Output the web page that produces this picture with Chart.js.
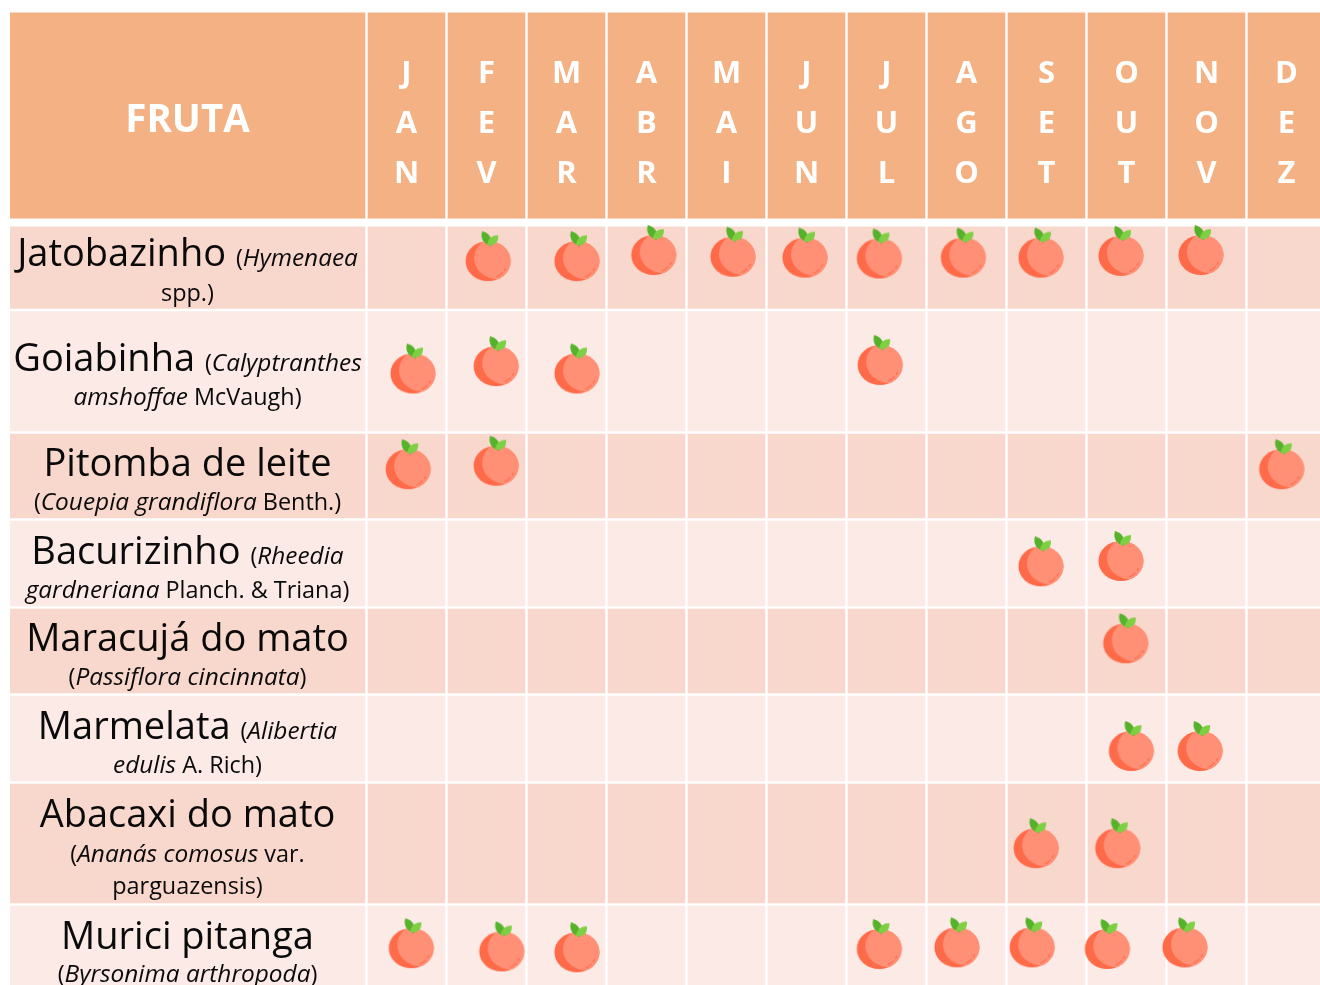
<!DOCTYPE html>
<html lang="pt">
<head>
<meta charset="utf-8">
<title>Calendário de frutas</title>
<script src="https://cdn.jsdelivr.net/npm/chart.js@4/dist/chart.umd.min.js"></script>
<style>
    html, body { margin: 0; padding: 0; background: #fff; overflow: hidden; }
    canvas { display: block; }
</style>
</head>
<body>
<canvas id="calendario" width="1320" height="985"></canvas>
<script>
const tituloFruta = 'FRUTA';
const meses = ['JAN', 'FEV', 'MAR', 'ABR', 'MAI', 'JUN', 'JUL', 'AGO', 'SET', 'OUT', 'NOV', 'DEZ'];
const frutas = ['Jatobazinho', 'Goiabinha', 'Pitomba de leite', 'Bacurizinho', 'Maracujá do mato', 'Marmelata', 'Abacaxi do mato', 'Murici pitanga'];

// month position (1 = JAN) and row position (0 = first row) of each fruit mark
const jatobazinhoMes = [2.02, 3.13, 4.09, 5.08, 5.98, 6.91, 7.96, 8.93, 9.93, 10.93];
const jatobazinhoLinha = [0.43, 0.43, 0.36, 0.38, 0.39, 0.40, 0.39, 0.39, 0.37, 0.36];
const goiabinhaMes = [1.08, 2.12, 3.13, 6.92];
const goiabinhaLinha = [1.51, 1.45, 1.51, 1.44];
const pitombaMes = [1.02, 2.12, 11.94];
const pitombaLinha = [2.41, 2.37, 2.41];
const bacurizinhoMes = [8.93, 9.93];
const bacurizinhoLinha = [3.52, 3.46];
const maracujaMes = [9.99];
const maracujaLinha = [4.40];
const marmelataMes = [10.06, 10.92];
const marmelataLinha = [5.63, 5.63];
const abacaxiMes = [8.87, 9.89];
const abacaxiLinha = [6.53, 6.53];
const muriciMes = [1.06, 2.19, 3.13, 6.91, 7.88, 8.82, 9.76, 10.73];
const muriciLinha = [7.53, 7.57, 7.58, 7.54, 7.52, 7.52, 7.54, 7.52];

const mesesPorFruta = [jatobazinhoMes, goiabinhaMes, pitombaMes, bacurizinhoMes, maracujaMes, marmelataMes, abacaxiMes, muriciMes];
const linhasPorFruta = [jatobazinhoLinha, goiabinhaLinha, pitombaLinha, bacurizinhoLinha, maracujaLinha, marmelataLinha, abacaxiLinha, muriciLinha];

// text of the first column: [text, 'n' name | 'i' italic | 'r' regular]
const textosFruta = [
    [[['Jatobazinho ', 'n'], ['(', 'r'], ['Hymenaea', 'i']], [['spp.)', 'r']]],
    [[['Goiabinha ', 'n'], ['(', 'r'], ['Calyptranthes', 'i']], [['amshoffae', 'i'], [' McVaugh)', 'r']]],
    [[['Pitomba de leite', 'n']], [['(', 'r'], ['Couepia grandiflora', 'i'], [' Benth.)', 'r']]],
    [[['Bacurizinho ', 'n'], ['(', 'r'], ['Rheedia', 'i']], [['gardneriana', 'i'], [' Planch. & Triana)', 'r']]],
    [[['Maracujá do mato', 'n']], [['(', 'r'], ['Passiflora cincinnata', 'i'], [')', 'r']]],
    [[['Marmelata ', 'n'], ['(', 'r'], ['Alibertia', 'i']], [['edulis', 'i'], [' A. Rich)', 'r']]],
    [[['Abacaxi do mato', 'n']], [['(', 'r'], ['Ananás comosus', 'i'], [' var.', 'r']], [['parguazensis)', 'r']]],
    [[['Murici pitanga', 'n']], [['(', 'r'], ['Byrsonima arthropoda', 'i'], [')', 'r']]]
];

// layout
const alturasLinhas = [87.5, 122.5, 87, 88, 87, 88, 122, 80.5];
const baselines = [[266, 301], [371, 405], [476, 510], [564, 598], [651, 685], [739, 773], [827, 862, 894], [949, 982]];
const corCabecalho = '#F4B183';
const corLinhaEscura = '#F8D7CD';
const corLinhaClara = '#FBEAE6';
const FONTE = '"Open Sans", "Noto Sans", sans-serif';
const fontes = {
    n: `38px ${FONTE}`,
    r: `23.4px ${FONTE}`,
    i: `italic 24.4px ${FONTE}`
};

// y axis whose rows have different heights
class LinhaScale extends Chart.LinearScale {
    static id = 'linhas';
    static defaults = Chart.LinearScale.defaults;

    getPixelForValue(value) {
        const total = alturasLinhas.reduce((a, b) => a + b, 0);
        const k = (this.bottom - this.top) / total;
        let py = this.top;
        let resto = value;
        for (const h of alturasLinhas) {
            if (resto < 1) return py + resto * h * k;
            py += h * k;
            resto -= 1;
        }
        return py;
    }

    getValueForPixel(pixel) {
        const total = alturasLinhas.reduce((a, b) => a + b, 0);
        const k = (this.bottom - this.top) / total;
        let py = this.top;
        for (let i = 0; i < alturasLinhas.length; i++) {
            const h = alturasLinhas[i] * k;
            if (pixel < py + h) return i + (pixel - py) / h;
            py += h;
        }
        return alturasLinhas.length;
    }
}
Chart.register(LinhaScale);

function desenharFruta() {
    const c = document.createElement('canvas');
    c.width = 60;
    c.height = 70;
    const g = c.getContext('2d');
    const cx = 30, cy = 36;

    g.save();
    g.beginPath();
    g.ellipse(cx, cy, 22.5, 20, 0, 0, Math.PI * 2);
    g.fillStyle = '#FF6A48';
    g.fill();
    g.clip();
    g.beginPath();
    g.ellipse(cx + 9, cy - 3, 23, 21, 0, 0, Math.PI * 2);
    g.fillStyle = '#FF9075';
    g.fill();
    g.strokeStyle = '#FF6F50';
    g.lineWidth = 1.3;
    g.beginPath();
    g.arc(cx + 1, cy - 1, 18.5, 0.75, 1.15);
    g.stroke();
    g.beginPath();
    g.arc(cx + 1, cy - 1, 18.5, 0.45, 0.62);
    g.stroke();
    g.restore();

    // leaves
    g.fillStyle = '#56B22A';
    g.beginPath();
    g.moveTo(cx + 3, cy - 15);
    g.quadraticCurveTo(cx - 9, cy - 19, cx - 6, cy - 30);
    g.quadraticCurveTo(cx + 5, cy - 27, cx + 3, cy - 15);
    g.fill();
    g.fillStyle = '#7FCF45';
    g.beginPath();
    g.moveTo(cx - 1, cy - 16);
    g.quadraticCurveTo(cx, cy - 26, cx + 10, cy - 26);
    g.quadraticCurveTo(cx + 11, cy - 15, cx - 1, cy - 16);
    g.fill();
    return c;
}

const iconeFruta = desenharFruta();

const pluginTabela = {
    id: 'tabela',
    beforeDraw(chart) {
        const { ctx, scales: { x, y } } = chart;
        const vao = 1.2;
        const colunas = [[10, x.getPixelForValue(0.5)]];
        meses.forEach((m, i) => {
            const fim = i === meses.length - 1 ? chart.width + vao : x.getPixelForValue(i + 1.5);
            colunas.push([x.getPixelForValue(i + 0.5), fim]);
        });
        ctx.save();
        colunas.forEach(([a, b], ci) => {
            const ax = ci === 0 ? a : a + vao;
            ctx.fillStyle = corCabecalho;
            ctx.fillRect(ax, 12.5, b - vao - ax, 206);
            frutas.forEach((f, li) => {
                const topo = y.getPixelForValue(li);
                const base = li === frutas.length - 1 ? chart.height + 2 : y.getPixelForValue(li + 1) - 1.2;
                ctx.fillStyle = li % 2 === 0 ? corLinhaEscura : corLinhaClara;
                ctx.fillRect(ax, topo + (li === 0 ? 4 : 1.2), b - vao - ax, base - topo - (li === 0 ? 4 : 1.2));
            });
        });

        ctx.textBaseline = 'alphabetic';
        ctx.fillStyle = '#fff';
        ctx.font = `bold 38.5px ${FONTE}`;
        ctx.textAlign = 'center';
        ctx.fillText(tituloFruta, 187.5, 132);

        ctx.textAlign = 'left';
        ctx.fillStyle = '#0a0a0a';
        textosFruta.forEach((linhas, li) => {
            linhas.forEach((partes, n) => {
                let largura = 0;
                partes.forEach(([t, e]) => { ctx.font = fontes[e]; largura += ctx.measureText(t).width; });
                let px = 187.5 - largura / 2;
                partes.forEach(([t, e]) => {
                    ctx.font = fontes[e];
                    ctx.fillText(t, px, baselines[li][n]);
                    px += ctx.measureText(t).width;
                });
            });
        });
        ctx.restore();
    }
};

new Chart(document.getElementById('calendario'), {
    type: 'scatter',
    data: {
        datasets: frutas.map((f, i) => ({
            label: f,
            data: mesesPorFruta[i].map((m, j) => ({ x: m, y: linhasPorFruta[i][j] })),
            pointStyle: iconeFruta,
            pointRadius: 22,
            clip: false
        }))
    },
    options: {
        responsive: false,
        animation: false,
        layout: { padding: 0, autoPadding: false },
        plugins: { legend: { display: false }, tooltip: { enabled: false } },
        scales: {
            x: {
                type: 'linear',
                position: 'top',
                min: 0.5,
                max: 12.419,
                grid: { display: false },
                border: { display: false },
                afterFit: (axis) => { axis.height = 222.5; },
                afterBuildTicks: (axis) => { axis.ticks = meses.map((m, i) => ({ value: i + 1 })); },
                ticks: {
                    autoSkip: false,
                    maxRotation: 0,
                    padding: 16,
                    color: '#fff',
                    font: { family: FONTE, size: 31, weight: 'bold', lineHeight: 1.6 },
                    callback: (value) => meses[value - 1].split('')
                }
            },
            y: {
                type: 'linhas',
                min: 0,
                max: 8,
                grid: { display: false },
                border: { display: false },
                ticks: { display: false },
                afterFit: (axis) => { axis.width = 366.5; }
            }
        }
    },
    plugins: [pluginTabela]
});
</script>
</body>
</html>
